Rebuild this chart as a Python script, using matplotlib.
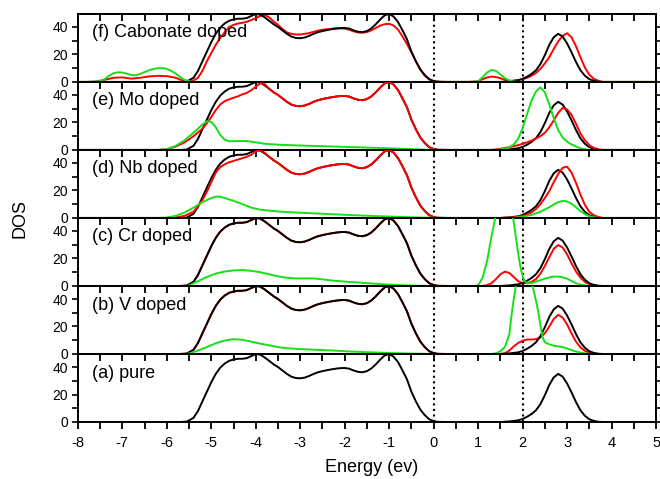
import numpy as np
import matplotlib.pyplot as plt
from matplotlib.ticker import MultipleLocator

plt.rcParams['font.family'] = ['Liberation Sans', 'DejaVu Sans']
plt.rcParams['axes.unicode_minus'] = False

# reference (pure) DOS, valence and conduction bands
black_vb = [(-5.7, 0), (-5.55, 0.3), (-5.4, 3), (-5.3, 8), (-5.2, 15), (-5.1, 22), (-5.0, 29),
            (-4.9, 35), (-4.8, 39.5), (-4.7, 42.5), (-4.6, 44.5), (-4.5, 45.5), (-4.4, 46),
            (-4.3, 46), (-4.2, 46.5), (-4.1, 48), (-4.0, 49.5), (-3.9, 49), (-3.8, 47),
            (-3.7, 44.5), (-3.6, 42), (-3.5, 40), (-3.4, 37.5), (-3.3, 35), (-3.2, 33),
            (-3.1, 32), (-3.0, 31.8), (-2.9, 32.3), (-2.8, 33.5), (-2.7, 35), (-2.6, 36.2),
            (-2.5, 37), (-2.4, 37.7), (-2.3, 38.3), (-2.2, 38.8), (-2.1, 39.2), (-2.0, 39.3),
            (-1.9, 38.8), (-1.8, 37.5), (-1.7, 36.5), (-1.6, 36.2), (-1.5, 37), (-1.4, 39),
            (-1.3, 42), (-1.2, 45.5), (-1.1, 48.5), (-1.0, 49.5), (-0.9, 47.5), (-0.8, 43.5),
            (-0.7, 37.5), (-0.6, 31), (-0.5, 22), (-0.4, 15), (-0.3, 9), (-0.2, 5),
            (-0.1, 2), (0.0, 0.6), (0.1, 0.1), (0.3, 0)]
black_cb = [(1.5, 0), (1.7, 0.4), (1.9, 1.2), (2.0, 2.2), (2.1, 3.8), (2.2, 5.8), (2.3, 8.5),
            (2.4, 13), (2.5, 19.5), (2.6, 27), (2.7, 32.5), (2.8, 35), (2.9, 33), (3.0, 28),
            (3.1, 21.5), (3.2, 14.5), (3.3, 8.5), (3.4, 4.5), (3.5, 2), (3.6, 0.8),
            (3.7, 0.2), (3.8, 0)]
black_tail = [p for p in black_vb if p[0] > -3.75]

# (f) carbonate doped
f_red = [(-7.8, 0), (-7.6, 0.3), (-7.4, 1.5), (-7.2, 3), (-7.0, 3.3), (-6.8, 2.4), (-6.6, 3),
         (-6.4, 4), (-6.2, 4.4), (-6.0, 4.2), (-5.8, 3), (-5.65, 1), (-5.5, 0.3), (-5.4, 1),
         (-5.3, 3), (-5.2, 8), (-5.1, 15), (-5.0, 21), (-4.9, 27), (-4.8, 32), (-4.7, 36),
         (-4.6, 40), (-4.5, 41.5), (-4.4, 42.5), (-4.3, 43), (-4.2, 43.8), (-4.1, 45),
         (-4.0, 46.5), (-3.9, 48), (-3.8, 48.8), (-3.7, 47), (-3.6, 44), (-3.5, 41.5),
         (-3.4, 38.5), (-3.3, 36), (-3.2, 35), (-3.1, 34.5), (-3.0, 34.5), (-2.9, 35),
         (-2.8, 35.5), (-2.7, 36.5), (-2.6, 37.3), (-2.5, 38), (-2.4, 38.3), (-2.2, 39),
         (-2.0, 38.8), (-1.9, 38), (-1.8, 36.8), (-1.7, 36), (-1.6, 35.8), (-1.5, 36.3),
         (-1.4, 37.5), (-1.3, 39.3), (-1.2, 41), (-1.1, 42), (-1.0, 42.3), (-0.9, 41),
         (-0.8, 38), (-0.7, 33), (-0.6, 27.5), (-0.5, 21.5), (-0.4, 15), (-0.3, 9),
         (-0.2, 4.5), (-0.1, 1.8), (0.0, 0.5), (0.2, 0),
         (0.8, 0), (1.0, 0.5), (1.1, 2), (1.2, 3.2), (1.3, 3.9), (1.4, 3.5), (1.5, 2.7),
         (1.6, 1.5), (1.7, 0.8), (1.8, 0.9), (1.9, 1.3), (2.0, 2), (2.1, 3), (2.2, 4.5),
         (2.3, 6.5), (2.4, 9.5), (2.5, 13.5), (2.6, 18), (2.7, 24), (2.8, 29.5), (2.9, 33.5),
         (3.0, 35.4), (3.1, 32.5), (3.2, 26), (3.3, 18), (3.4, 10.5), (3.5, 5.2), (3.6, 2.3),
         (3.7, 0.8), (3.8, 0)]
f_green = [(-7.7, 0), (-7.5, 0.5), (-7.4, 2), (-7.3, 4.5), (-7.2, 6.3), (-7.1, 7), (-7.0, 6.8),
           (-6.9, 6), (-6.8, 5), (-6.7, 4.8), (-6.6, 5.8), (-6.5, 7.2), (-6.4, 8.5),
           (-6.3, 9.5), (-6.2, 10), (-6.1, 10), (-6.0, 9.5), (-5.9, 8), (-5.8, 6),
           (-5.7, 3.5), (-5.6, 1.5), (-5.5, 0.5), (-5.4, 0),
           (0.9, 0), (1.0, 0.5), (1.1, 3.5), (1.2, 6.8), (1.3, 8.7), (1.4, 8), (1.5, 5.5),
           (1.6, 2.8), (1.7, 1), (1.8, 0.3), (1.9, 0)]

# (e) Mo doped
e_red = [(-6.2, 0), (-6.0, 0.5), (-5.8, 2.5), (-5.6, 5.5), (-5.4, 10), (-5.2, 15.5),
         (-5.1, 19.5), (-5.0, 24), (-4.9, 29), (-4.8, 33), (-4.7, 35.5), (-4.6, 36.8),
         (-4.5, 38), (-4.4, 39), (-4.3, 40.5), (-4.2, 41.5), (-4.1, 43.5), (-4.0, 46),
         (-3.9, 48.5), (-3.8, 48)] + black_tail + [
         (1.3, 0), (1.5, 0.8), (1.7, 2), (1.9, 3.5), (2.0, 4.5), (2.1, 5.5), (2.2, 6.8),
         (2.3, 8.3), (2.4, 10), (2.5, 12.5), (2.6, 16.5), (2.7, 21.5), (2.8, 27), (2.9, 30.5),
         (3.0, 29.5), (3.1, 25.5), (3.2, 19), (3.3, 12), (3.4, 7), (3.5, 3.5), (3.6, 1.5),
         (3.7, 0.5), (3.8, 0)]
e_green = [(-6.2, 0), (-6.0, 0.5), (-5.8, 3), (-5.6, 7), (-5.4, 12.5), (-5.2, 18.5),
           (-5.1, 20.8), (-5.0, 20.5), (-4.9, 16.5), (-4.8, 11), (-4.7, 7.5), (-4.6, 6.3),
           (-4.4, 6.5), (-4.2, 6.5), (-4.0, 5.5), (-3.8, 4.5), (-3.5, 3.8), (-3.0, 3.2),
           (-2.5, 2.7), (-2.0, 2.2), (-1.5, 1.7), (-1.0, 1.2), (-0.5, 0.6), (-0.2, 0.2),
           (0.0, 0),
           (1.4, 0), (1.6, 0.8), (1.7, 2), (1.8, 4), (1.9, 8), (2.0, 16), (2.1, 26), (2.2, 36),
           (2.3, 42.5), (2.4, 45.5), (2.5, 42), (2.6, 33), (2.7, 23), (2.8, 14.5), (2.9, 9),
           (3.0, 6), (3.1, 4), (3.2, 2.5), (3.3, 1.2), (3.4, 0.5), (3.5, 0)]

# (d) Nb doped
d_red = [(-6.0, 0), (-5.8, 0.3), (-5.6, 1.5), (-5.4, 4.5), (-5.3, 8.5), (-5.2, 13), (-5.1, 19),
         (-5.0, 26), (-4.9, 33), (-4.8, 37), (-4.7, 39), (-4.6, 40.5), (-4.5, 41.5),
         (-4.4, 42.5), (-4.3, 43.5), (-4.2, 44.5), (-4.1, 46), (-4.0, 48.5), (-3.9, 49.3),
         (-3.8, 47.5)] + black_tail + [
         (1.5, 0), (1.8, 0.5), (2.0, 1.5), (2.1, 2.5), (2.2, 4), (2.3, 6.5), (2.4, 10),
         (2.5, 14.5), (2.6, 19.5), (2.7, 26), (2.8, 32), (2.9, 36.5), (3.0, 37.3), (3.1, 33),
         (3.2, 25.5), (3.3, 17), (3.4, 9.5), (3.5, 4.5), (3.6, 2), (3.7, 0.7), (3.8, 0)]
d_green = [(-6.2, 0), (-6.0, 0.3), (-5.8, 1.5), (-5.6, 4), (-5.4, 7.5), (-5.2, 11.5),
           (-5.0, 14.5), (-4.9, 15.5), (-4.8, 15.5), (-4.7, 14.5), (-4.5, 12.5), (-4.3, 10),
           (-4.1, 7.5), (-3.9, 6), (-3.6, 5), (-3.3, 4.3), (-3.0, 3.8), (-2.6, 3.2),
           (-2.2, 2.6), (-1.8, 2), (-1.4, 1.5), (-1.0, 1), (-0.6, 0.6), (-0.3, 0.3),
           (0.0, 0.1), (0.3, 0),
           (1.8, 0), (2.0, 0.8), (2.2, 2.2), (2.4, 4.5), (2.6, 7.8), (2.7, 9.8), (2.8, 11.5),
           (2.9, 12.4), (3.0, 12), (3.1, 10.3), (3.2, 7.8), (3.3, 5), (3.4, 2.8), (3.5, 1.3),
           (3.6, 0.5), (3.7, 0)]

# (c) Cr doped
c_red = black_vb + [
         (1.1, 0), (1.2, 0.5), (1.3, 2), (1.4, 5), (1.5, 8.5), (1.6, 10.4), (1.7, 9.5),
         (1.8, 6.5), (1.9, 3.5), (2.0, 2), (2.1, 2), (2.2, 3), (2.3, 5), (2.4, 9), (2.5, 14.5),
         (2.6, 21), (2.7, 27), (2.8, 29.8), (2.9, 28), (3.0, 23), (3.1, 16.5), (3.2, 10.5),
         (3.3, 6), (3.4, 3), (3.5, 1.3), (3.6, 0.5), (3.7, 0)]
c_green = [(-5.6, 0), (-5.5, 0.3), (-5.3, 3.5), (-5.1, 6.5), (-4.9, 9), (-4.7, 10.5),
           (-4.5, 11.3), (-4.3, 11.6), (-4.1, 11), (-3.9, 10), (-3.7, 8.5), (-3.5, 7),
           (-3.3, 6), (-3.1, 5.5), (-2.9, 5.5), (-2.7, 5.5), (-2.5, 4.8), (-2.3, 4),
           (-2.0, 3.2), (-1.7, 2.5), (-1.4, 1.8), (-1.1, 1.2), (-0.8, 0.7), (-0.5, 0.3),
           (-0.2, 0.1), (0.0, 0),
           (0.9, 0), (1.0, 0.5), (1.1, 6), (1.2, 18), (1.3, 36), (1.4, 52), (1.5, 62),
           (1.6, 65), (1.7, 60), (1.8, 47), (1.85, 35), (1.9, 24), (1.95, 14), (2.0, 7),
           (2.05, 3.5), (2.1, 2), (2.2, 2), (2.3, 3.2), (2.4, 4.2), (2.5, 5.3), (2.6, 6.2),
           (2.7, 6.8), (2.8, 6.8), (2.9, 6.3), (3.0, 5.3), (3.1, 3.6), (3.2, 2), (3.3, 1),
           (3.4, 0.4), (3.5, 0)]

# (b) V doped
b_red = black_vb + [
         (1.5, 0), (1.6, 0.5), (1.7, 2.5), (1.8, 5.5), (1.9, 8), (2.0, 9.7), (2.1, 10.5),
         (2.2, 10.5), (2.3, 10.8), (2.4, 12), (2.5, 15), (2.6, 20), (2.7, 25.5), (2.8, 28.5),
         (2.9, 26.5), (3.0, 21.5), (3.1, 15), (3.2, 9), (3.3, 4.8), (3.4, 2.3), (3.5, 1),
         (3.6, 0.3), (3.7, 0)]
b_green = [(-5.6, 0), (-5.5, 0.3), (-5.3, 2.5), (-5.1, 5), (-4.9, 7.8), (-4.7, 9.8),
           (-4.5, 10.8), (-4.3, 10.3), (-4.1, 9), (-3.9, 7.5), (-3.7, 6.3), (-3.5, 5),
           (-3.3, 4.2), (-3.0, 3.6), (-2.7, 3.1), (-2.3, 2.6), (-2.0, 2), (-1.5, 1.3),
           (-1.0, 0.7), (-0.5, 0.3), (0.0, 0),
           (1.3, 0), (1.4, 0.5), (1.5, 2), (1.6, 5), (1.7, 14), (1.75, 28), (1.8, 40),
           (1.85, 50), (1.9, 56), (2.0, 62), (2.1, 60), (2.2, 52), (2.25, 46), (2.3, 39),
           (2.35, 31), (2.4, 21), (2.45, 12), (2.5, 8.5), (2.6, 7), (2.7, 6), (2.8, 5.5),
           (2.9, 5), (3.0, 4), (3.1, 2.8), (3.2, 1.8), (3.3, 1), (3.4, 0.5), (3.5, 0)]

labels = ["(f) Cabonate doped", "(e) Mo doped", "(d) Nb doped",
          "(c) Cr doped", "(b) V doped", "(a) pure"]
reds = [f_red, e_red, d_red, c_red, b_red, None]
greens = [f_green, e_green, d_green, c_green, b_green, None]
red_on_top = [False, True, True, False, False, False]

black_all = black_vb + black_cb
green_c = '#16e016'


def xy(points):
    pts = list(points)
    if pts[0][0] > -8:
        pts = [(-8, 0)] + pts
    if pts[-1][0] < 5:
        pts = pts + [(5, 0)]
    a = np.array(pts, dtype=float)
    return a[:, 0], a[:, 1]


fig, axes = plt.subplots(6, 1, sharex=True, figsize=(6.6, 4.79), dpi=100)
fig.subplots_adjust(left=0.118, right=0.994, top=0.971, bottom=0.119, hspace=0)

for i, ax in enumerate(axes):
    ax.set_facecolor('none')
    bx, by = xy(black_all)
    if reds[i] is not None:
        rx, ry = xy(reds[i])
        zr = 3 if red_on_top[i] else 1
        ax.plot(rx, ry, color='red', lw=1.4, zorder=zr)
    ax.plot(bx, by, color='black', lw=1.4, zorder=2)
    if greens[i] is not None:
        gx, gy = xy(greens[i])
        ax.plot(gx, gy, color=green_c, lw=1.4, zorder=4)
    for v in (0, 2):
        ax.axvline(v, color='black', ls=':', lw=1.5, zorder=0)
    ax.text(0.024, 0.72, labels[i], transform=ax.transAxes, fontsize=13, va='center')
    ax.set_xlim(-8, 5)
    ax.set_ylim(0, 49.5)
    ax.yaxis.set_major_locator(MultipleLocator(20))
    ax.yaxis.set_minor_locator(MultipleLocator(10))
    ax.xaxis.set_major_locator(MultipleLocator(1))
    ax.xaxis.set_minor_locator(MultipleLocator(0.5))
    ax.tick_params(axis='y', which='both', direction='out', left=True, right=True,
                   labelright=False, length=4, width=1.2, labelsize=10, pad=3)
    ax.tick_params(axis='x', which='both', direction='out', bottom=True, top=False,
                   length=5, width=1.3, labelsize=10.5, pad=5)
    for s in ax.spines.values():
        s.set_linewidth(1.4)

sec = axes[0].secondary_xaxis('top')
sec.xaxis.set_major_locator(MultipleLocator(0.5))
sec.tick_params(direction='in', length=5, width=1.3, labeltop=False)
sec.spines['top'].set_linewidth(1.4)

fig.text(0.03, 1 - 218 / 479, 'DOS', rotation=90, ha='center', va='center', fontsize=13)
fig.text(372 / 660, 1 - 467 / 479, 'Energy (ev)', ha='center', va='center', fontsize=13)

fig.savefig('out.png', dpi=100)
